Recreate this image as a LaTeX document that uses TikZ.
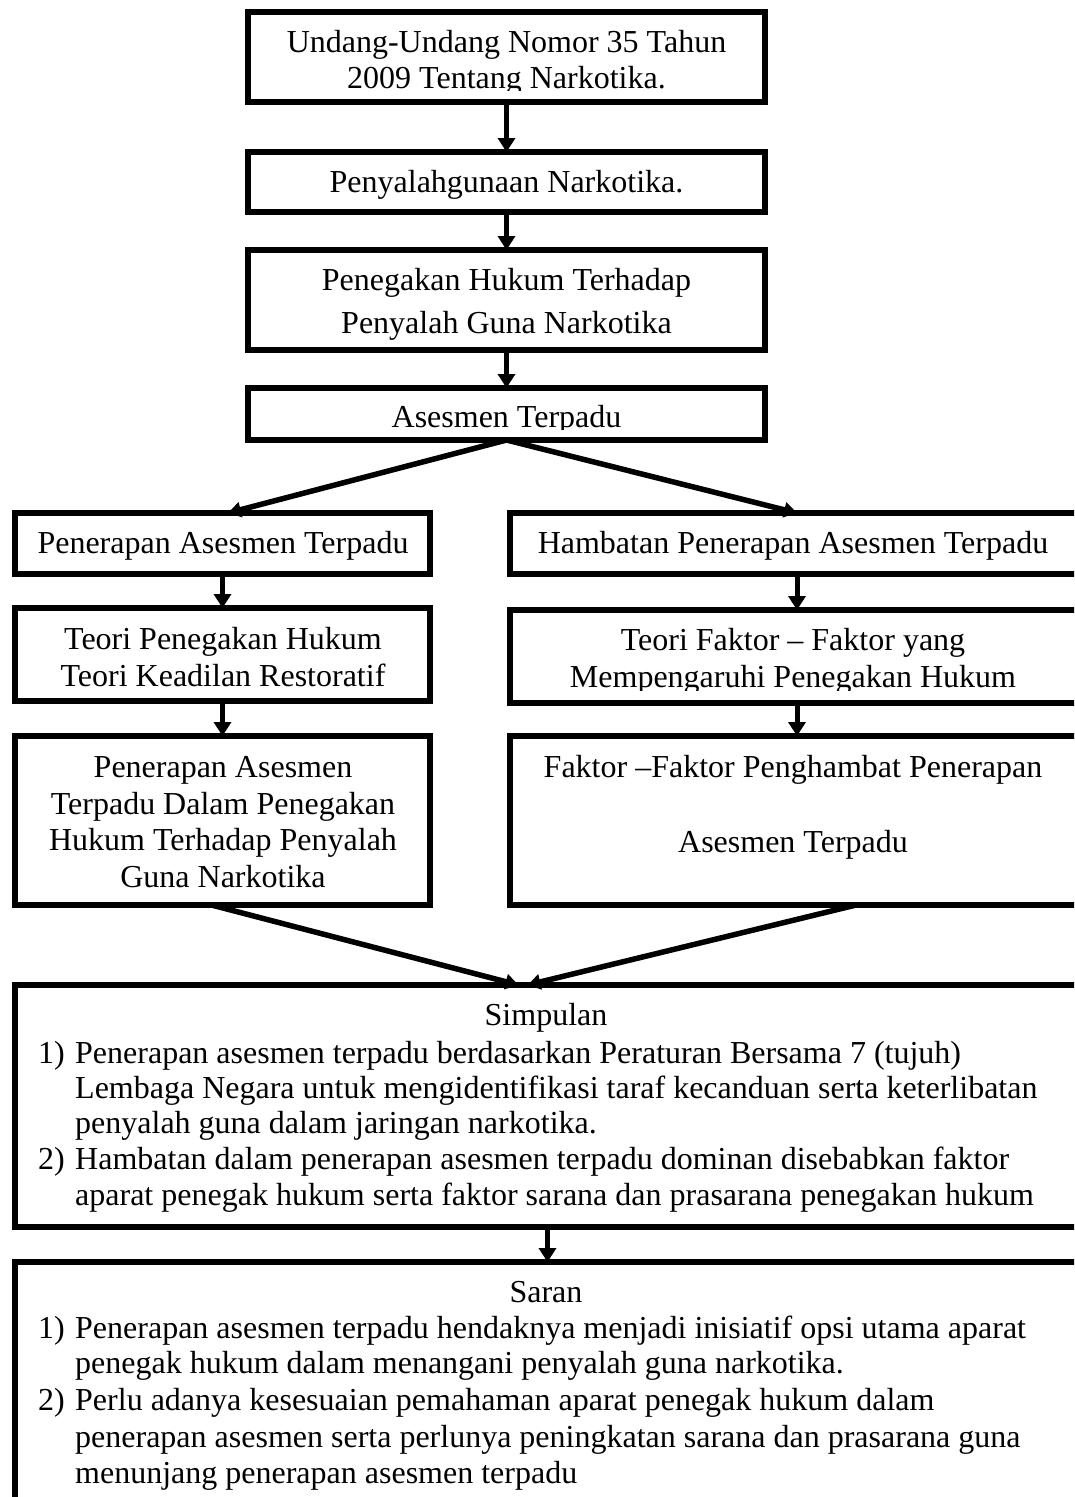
\documentclass[tikz,border=0pt]{standalone}
\usepackage{fontspec}
\setmainfont{Liberation Serif}
\usetikzlibrary{arrows.meta}
\begin{document}
\begin{tikzpicture}[x=1pt,y=-1pt,
  box/.style={draw, line width=5.5pt, rectangle, inner sep=0pt, outer sep=0pt},
  arr/.style={line width=5pt, -{Triangle[width=17pt,length=14pt]}},
  darr/.style={line width=5.5pt, -{Triangle[width=15pt,length=13pt]}},
  txt/.style={anchor=base, inner sep=0pt, font=\fontsize{32}{37}\selectfont},
  ltxt/.style={anchor=base west, inner sep=0pt, font=\fontsize{32}{37}\selectfont}]
\clip (0,0) rectangle (1074,1497);
\fill[white] (0,0) rectangle (1074,1497);
% boxes
\node[box, minimum width=517pt, minimum height=90pt] (b1) at (506.5,57) {};
\node[box, minimum width=517pt, minimum height=60pt] (b2) at (506.5,182) {};
\node[box, minimum width=517pt, minimum height=100pt] (b3) at (506.5,300) {};
\node[box, minimum width=517pt, minimum height=52pt] (b4) at (506.5,414) {};
\node[box, minimum width=415pt, minimum height=61pt] (l1) at (222.5,543.5) {};
\node[box, minimum width=574pt, minimum height=61pt] (r1) at (797,543.5) {};
\node[box, minimum width=415pt, minimum height=93pt] (l2) at (222.5,654.5) {};
\node[box, minimum width=574pt, minimum height=93pt] (r2) at (797,656.5) {};
\node[box, minimum width=415pt, minimum height=169pt] (l3) at (222.5,820.5) {};
\node[box, minimum width=574pt, minimum height=169pt] (r3) at (797,820.5) {};
\node[box, minimum width=1065pt, minimum height=242pt] (s) at (547.5,1106) {};
\node[box, minimum width=1065pt, minimum height=268pt] (n) at (547.5,1396) {};
% connectors
\draw[arr] (b1.south) -- (b2.north);
\draw[arr] (b2.south) -- (b3.north);
\draw[arr] (b3.south) -- (b4.north);
\draw[darr] (b4.south) -- ([xshift=5.5pt]l1.north);
\draw[darr] (b4.south) -- (r1.north);
\draw[arr] (l1.south) -- (l2.north);
\draw[arr] (l2.south) -- (l3.north);
\draw[arr] (r1.south) -- (r2.north);
\draw[arr] (r2.south) -- (r3.north);
\draw[darr] ([xshift=-11pt]l3.south) -- ([xshift=-29pt]s.north);
\draw[darr] ([xshift=59pt]r3.south) -- ([xshift=-20pt]s.north);
\draw[arr] (s.south) -- (n.north);
% texts
\node[txt] (t1a) at (506.5,52) {Undang-Undang Nomor 35 Tahun};
\begin{scope}
\clip (240,0) rectangle (770,90);
\node[txt] (t1b) at (506.5,88) {2009 Tentang Narkotika.};
\end{scope}
\node[txt] (t2) at (506.5,192) {Penyalahgunaan Narkotika.};
\node[txt] (t3a) at (506.5,290) {Penegakan Hukum Terhadap};
\node[txt] (t3b) at (506.5,333) {Penyalah Guna Narkotika};
\begin{scope}
\clip (240,380) rectangle (770,429);
\node[txt] (t4) at (506.5,427) {Asesmen Terpadu};
\end{scope}
\node[txt] (tl1) at (223,553) {Penerapan Asesmen Terpadu};
\node[txt] (tr1) at (793,553) {Hambatan Penerapan Asesmen Terpadu};
\node[txt] (tl2a) at (223,649) {Teori Penegakan Hukum};
\node[txt] (tl2b) at (223,686) {Teori Keadilan Restoratif};
\node[txt] (tr2a) at (793,650) {Teori Faktor -- Faktor yang};
\begin{scope}
\clip (500,660) rectangle (1074,690);
\node[txt] (tr2b) at (793,687) {Mempengaruhi Penegakan Hukum};
\end{scope}
\node[txt] (tl3a) at (223,777) {Penerapan Asesmen};
\node[txt] (tl3b) at (223,814) {Terpadu Dalam Penegakan};
\node[txt] (tl3c) at (223,850) {Hukum Terhadap Penyalah};
\node[txt] (tl3d) at (223,887) {Guna Narkotika};
\node[txt] (tr3a) at (793,777) {Faktor --Faktor Penghambat Penerapan};
\node[txt] (tr3b) at (793,852) {Asesmen Terpadu};
% Simpulan
\node[txt] (st) at (546,1025) {Simpulan};
\node[ltxt] (s1n) at (38,1063) {1)};
\node[ltxt] (s1a) at (75,1063) {Penerapan asesmen terpadu berdasarkan Peraturan Bersama 7 (tujuh)};
\node[ltxt] (s1b) at (75,1098) {Lembaga Negara untuk mengidentifikasi taraf kecanduan serta keterlibatan};
\node[ltxt] (s1c) at (75,1133) {penyalah guna dalam jaringan narkotika.};
\node[ltxt] (s2n) at (38,1169) {2)};
\node[ltxt] (s2a) at (75,1169) {Hambatan dalam penerapan asesmen terpadu dominan disebabkan faktor};
\node[ltxt] (s2b) at (75,1205) {aparat penegak hukum serta faktor sarana dan prasarana penegakan hukum};
% Saran
\node[txt] (nt) at (546,1302) {Saran};
\node[ltxt] (n1n) at (38,1338) {1)};
\node[ltxt] (n1a) at (75,1338) {Penerapan asesmen terpadu hendaknya menjadi inisiatif opsi utama aparat};
\node[ltxt] (n1b) at (75,1373) {penegak hukum dalam menangani penyalah guna narkotika.};
\node[ltxt] (n2n) at (38,1410) {2)};
\node[ltxt] (n2a) at (75,1410) {Perlu adanya kesesuaian pemahaman aparat penegak hukum dalam};
\node[ltxt] (n2b) at (75,1447) {penerapan asesmen serta perlunya peningkatan sarana dan prasarana guna};
\node[ltxt] (n2c) at (75,1483) {menunjang penerapan asesmen terpadu};
\end{tikzpicture}
\end{document}
